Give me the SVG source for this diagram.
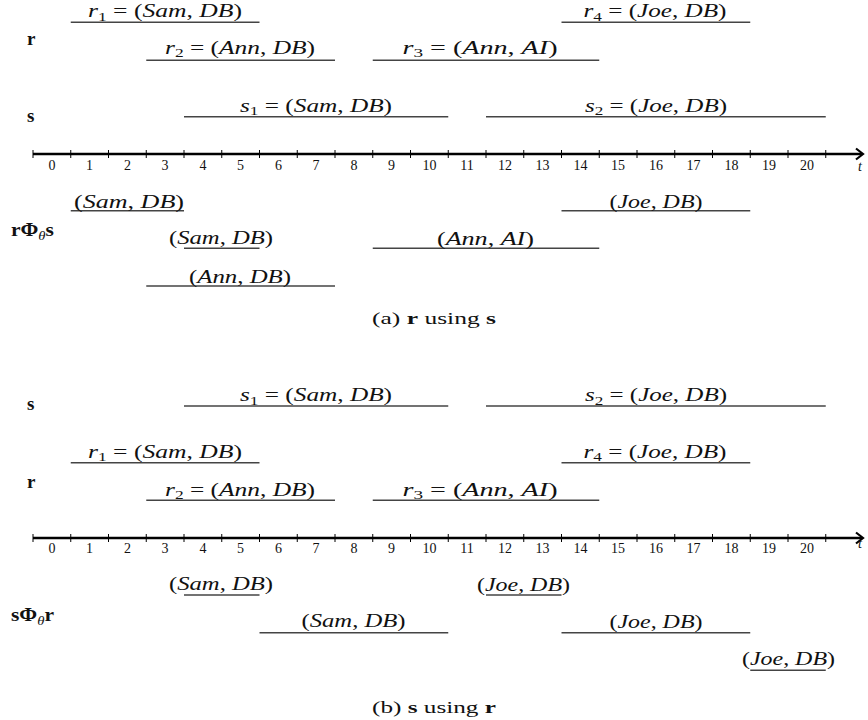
<svg xmlns="http://www.w3.org/2000/svg" width="868" height="720" viewBox="0 0 868 720">
<style>
  text { font-family: "Liberation Serif", "Times New Roman", serif; fill: #111; }
  .m { font-size: 19px; }
  .i { font-style: italic; }
  .b { font-weight: bold; }
  .sub { font-size: 13px; }
  .num { font-size: 14px; text-anchor: middle; }
  .ln { stroke: #444; stroke-width: 1.4; fill: none; }
  .axis { stroke: #000; stroke-width: 2.6; fill: none; }
  .tick { stroke: #000; stroke-width: 1; }
  .cap { font-size: 17px; text-anchor: middle; }
</style>
<defs>
  <g id="ticks">
    <path class="tick" d="M33,-4V4M70.75,-4V4M108.5,-4V4M146.25,-4V4M184,-4V4M221.75,-4V4M259.5,-4V4M297.25,-4V4M335,-4V4M372.75,-4V4M410.5,-4V4M448.25,-4V4M486,-4V4M523.75,-4V4M561.5,-4V4M599.25,-4V4M637,-4V4M674.75,-4V4M712.5,-4V4M750.25,-4V4M788,-4V4M825.75,-4V4"/>
    <path class="axis" d="M33,0H862"/>
    <path d="M856,-5.5L863,0L856,5.5" stroke="#000" stroke-width="2.2" fill="none" stroke-linejoin="miter"/>
  </g>
  <g id="nums">
    <text class="num" x="51.9" y="0">0</text>
    <text class="num" x="89.6" y="0">1</text>
    <text class="num" x="127.4" y="0">2</text>
    <text class="num" x="165.1" y="0">3</text>
    <text class="num" x="202.9" y="0">4</text>
    <text class="num" x="240.6" y="0">5</text>
    <text class="num" x="278.4" y="0">6</text>
    <text class="num" x="316.1" y="0">7</text>
    <text class="num" x="353.9" y="0">8</text>
    <text class="num" x="391.6" y="0">9</text>
    <text class="num" x="429.4" y="0">10</text>
    <text class="num" x="467.1" y="0">11</text>
    <text class="num" x="504.9" y="0">12</text>
    <text class="num" x="542.6" y="0">13</text>
    <text class="num" x="580.4" y="0">14</text>
    <text class="num" x="618.1" y="0">15</text>
    <text class="num" x="655.9" y="0">16</text>
    <text class="num" x="693.6" y="0">17</text>
    <text class="num" x="731.4" y="0">18</text>
    <text class="num" x="769.1" y="0">19</text>
    <text class="num" x="806.9" y="0">20</text>
  </g>
</defs>

<!-- ===== (a) r using s ===== -->
<g id="a-label-r"><text class="m b" x="27" y="45">r</text></g>
<g id="a-label-s"><text class="m b" x="27" y="122">s</text></g>

<g id="a-r1">
  <line class="ln" x1="70.75" y1="22.3" x2="259.5" y2="22.3"/>
  <text class="m" x="165" y="17" text-anchor="middle" textLength="154" lengthAdjust="spacingAndGlyphs"><tspan class="i">r</tspan><tspan class="sub" dy="3.5">1</tspan><tspan dy="-3.5"> = (</tspan><tspan class="i">Sam</tspan>, <tspan class="i">DB</tspan>)</text>
</g>
<g id="a-r2">
  <line class="ln" x1="146.25" y1="60.3" x2="335" y2="60.3"/>
  <text class="m" x="240" y="53.5" text-anchor="middle" textLength="150" lengthAdjust="spacingAndGlyphs"><tspan class="i">r</tspan><tspan class="sub" dy="3.5">2</tspan><tspan dy="-3.5"> = (</tspan><tspan class="i">Ann</tspan>, <tspan class="i">DB</tspan>)</text>
</g>
<g id="a-r3">
  <line class="ln" x1="372.75" y1="60.3" x2="599.25" y2="60.3"/>
  <text class="m" x="480" y="53.5" text-anchor="middle" textLength="155" lengthAdjust="spacingAndGlyphs"><tspan class="i">r</tspan><tspan class="sub" dy="3.5">3</tspan><tspan dy="-3.5"> = (</tspan><tspan class="i">Ann</tspan>, <tspan class="i">AI</tspan>)</text>
</g>
<g id="a-r4">
  <line class="ln" x1="561.5" y1="22.3" x2="750.25" y2="22.3"/>
  <text class="m" x="655" y="17" text-anchor="middle" textLength="143" lengthAdjust="spacingAndGlyphs"><tspan class="i">r</tspan><tspan class="sub" dy="3.5">4</tspan><tspan dy="-3.5"> = (</tspan><tspan class="i">Joe</tspan>, <tspan class="i">DB</tspan>)</text>
</g>
<g id="a-s1">
  <line class="ln" x1="184" y1="116.7" x2="448.25" y2="116.7"/>
  <text class="m" x="316" y="111.5" text-anchor="middle" textLength="152" lengthAdjust="spacingAndGlyphs"><tspan class="i">s</tspan><tspan class="sub" dy="3.5">1</tspan><tspan dy="-3.5"> = (</tspan><tspan class="i">Sam</tspan>, <tspan class="i">DB</tspan>)</text>
</g>
<g id="a-s2">
  <line class="ln" x1="486" y1="116.7" x2="825.75" y2="116.7"/>
  <text class="m" x="656" y="111.5" text-anchor="middle" textLength="142" lengthAdjust="spacingAndGlyphs"><tspan class="i">s</tspan><tspan class="sub" dy="3.5">2</tspan><tspan dy="-3.5"> = (</tspan><tspan class="i">Joe</tspan>, <tspan class="i">DB</tspan>)</text>
</g>

<g id="a-axis">
  <use href="#ticks" transform="translate(0,154)"/>
  <use href="#nums" transform="translate(0,170)"/>
  <text class="i" x="858" y="171" font-size="14">t</text>
</g>

<g id="a-label-join"><text class="m b" x="11" y="236" textLength="43" lengthAdjust="spacingAndGlyphs">rΦ<tspan class="i sub" font-weight="normal" dy="4">θ</tspan><tspan dy="-4">s</tspan></text></g>

<g id="a-j1">
  <line class="ln" x1="70.75" y1="210.7" x2="184" y2="210.7"/>
  <text class="m" x="129" y="207.5" text-anchor="middle" textLength="110" lengthAdjust="spacingAndGlyphs">(<tspan class="i">Sam</tspan>, <tspan class="i">DB</tspan>)</text>
</g>
<g id="a-j2">
  <line class="ln" x1="184" y1="248.3" x2="259.5" y2="248.3"/>
  <text class="m" x="221" y="243.5" text-anchor="middle" textLength="104" lengthAdjust="spacingAndGlyphs">(<tspan class="i">Sam</tspan>, <tspan class="i">DB</tspan>)</text>
</g>
<g id="a-j3">
  <line class="ln" x1="146.25" y1="286" x2="335" y2="286"/>
  <text class="m" x="240" y="282.5" text-anchor="middle" textLength="102" lengthAdjust="spacingAndGlyphs">(<tspan class="i">Ann</tspan>, <tspan class="i">DB</tspan>)</text>
</g>
<g id="a-j4">
  <line class="ln" x1="372.75" y1="248.3" x2="599.25" y2="248.3"/>
  <text class="m" x="485.5" y="244.5" text-anchor="middle" textLength="97" lengthAdjust="spacingAndGlyphs">(<tspan class="i">Ann</tspan>, <tspan class="i">AI</tspan>)</text>
</g>
<g id="a-j5">
  <line class="ln" x1="561.5" y1="210.7" x2="750.25" y2="210.7"/>
  <text class="m" x="656" y="207.5" text-anchor="middle" textLength="93" lengthAdjust="spacingAndGlyphs">(<tspan class="i">Joe</tspan>, <tspan class="i">DB</tspan>)</text>
</g>

<g id="a-caption"><text class="cap" x="434" y="324" textLength="124" lengthAdjust="spacingAndGlyphs">(a) <tspan class="b">r</tspan> using <tspan class="b">s</tspan></text></g>

<!-- ===== (b) s using r ===== -->
<g id="b-label-s"><text class="m b" x="27" y="410">s</text></g>
<g id="b-label-r"><text class="m b" x="27" y="488">r</text></g>

<g id="b-s1">
  <line class="ln" x1="184" y1="406" x2="448.25" y2="406"/>
  <text class="m" x="316" y="401" text-anchor="middle" textLength="152" lengthAdjust="spacingAndGlyphs"><tspan class="i">s</tspan><tspan class="sub" dy="3.5">1</tspan><tspan dy="-3.5"> = (</tspan><tspan class="i">Sam</tspan>, <tspan class="i">DB</tspan>)</text>
</g>
<g id="b-s2">
  <line class="ln" x1="486" y1="406" x2="825.75" y2="406"/>
  <text class="m" x="656" y="401" text-anchor="middle" textLength="142" lengthAdjust="spacingAndGlyphs"><tspan class="i">s</tspan><tspan class="sub" dy="3.5">2</tspan><tspan dy="-3.5"> = (</tspan><tspan class="i">Joe</tspan>, <tspan class="i">DB</tspan>)</text>
</g>
<g id="b-r1">
  <line class="ln" x1="70.75" y1="462.7" x2="259.5" y2="462.7"/>
  <text class="m" x="165" y="457.5" text-anchor="middle" textLength="154" lengthAdjust="spacingAndGlyphs"><tspan class="i">r</tspan><tspan class="sub" dy="3.5">1</tspan><tspan dy="-3.5"> = (</tspan><tspan class="i">Sam</tspan>, <tspan class="i">DB</tspan>)</text>
</g>
<g id="b-r4">
  <line class="ln" x1="561.5" y1="462.7" x2="750.25" y2="462.7"/>
  <text class="m" x="655" y="457.5" text-anchor="middle" textLength="143" lengthAdjust="spacingAndGlyphs"><tspan class="i">r</tspan><tspan class="sub" dy="3.5">4</tspan><tspan dy="-3.5"> = (</tspan><tspan class="i">Joe</tspan>, <tspan class="i">DB</tspan>)</text>
</g>
<g id="b-r2">
  <line class="ln" x1="146.25" y1="500.3" x2="335" y2="500.3"/>
  <text class="m" x="240" y="495.5" text-anchor="middle" textLength="150" lengthAdjust="spacingAndGlyphs"><tspan class="i">r</tspan><tspan class="sub" dy="3.5">2</tspan><tspan dy="-3.5"> = (</tspan><tspan class="i">Ann</tspan>, <tspan class="i">DB</tspan>)</text>
</g>
<g id="b-r3">
  <line class="ln" x1="372.75" y1="500.3" x2="599.25" y2="500.3"/>
  <text class="m" x="480" y="495.5" text-anchor="middle" textLength="155" lengthAdjust="spacingAndGlyphs"><tspan class="i">r</tspan><tspan class="sub" dy="3.5">3</tspan><tspan dy="-3.5"> = (</tspan><tspan class="i">Ann</tspan>, <tspan class="i">AI</tspan>)</text>
</g>

<g id="b-axis">
  <use href="#ticks" transform="translate(0,538)"/>
  <use href="#nums" transform="translate(0,553)"/>
  <text class="i" x="858" y="548" font-size="14">t</text>
</g>

<g id="b-label-join"><text class="m b" x="11" y="620.5" textLength="43" lengthAdjust="spacingAndGlyphs">sΦ<tspan class="i sub" font-weight="normal" dy="4">θ</tspan><tspan dy="-4">r</tspan></text></g>

<g id="b-j1">
  <line class="ln" x1="184" y1="595" x2="259.5" y2="595"/>
  <text class="m" x="221" y="590" text-anchor="middle" textLength="104" lengthAdjust="spacingAndGlyphs">(<tspan class="i">Sam</tspan>, <tspan class="i">DB</tspan>)</text>
</g>
<g id="b-j2">
  <line class="ln" x1="259.5" y1="632.7" x2="448.25" y2="632.7"/>
  <text class="m" x="353.5" y="627" text-anchor="middle" textLength="104" lengthAdjust="spacingAndGlyphs">(<tspan class="i">Sam</tspan>, <tspan class="i">DB</tspan>)</text>
</g>
<g id="b-j3">
  <line class="ln" x1="486" y1="595" x2="561.5" y2="595"/>
  <text class="m" x="523.5" y="591" text-anchor="middle" textLength="93" lengthAdjust="spacingAndGlyphs">(<tspan class="i">Joe</tspan>, <tspan class="i">DB</tspan>)</text>
</g>
<g id="b-j4">
  <line class="ln" x1="561.5" y1="632.7" x2="750.25" y2="632.7"/>
  <text class="m" x="656" y="628" text-anchor="middle" textLength="93" lengthAdjust="spacingAndGlyphs">(<tspan class="i">Joe</tspan>, <tspan class="i">DB</tspan>)</text>
</g>
<g id="b-j5">
  <line class="ln" x1="750.25" y1="670.3" x2="825.75" y2="670.3"/>
  <text class="m" x="788.5" y="665" text-anchor="middle" textLength="93" lengthAdjust="spacingAndGlyphs">(<tspan class="i">Joe</tspan>, <tspan class="i">DB</tspan>)</text>
</g>

<g id="b-caption"><text class="cap" x="434" y="713" textLength="124" lengthAdjust="spacingAndGlyphs">(b) <tspan class="b">s</tspan> using <tspan class="b">r</tspan></text></g>
</svg>
